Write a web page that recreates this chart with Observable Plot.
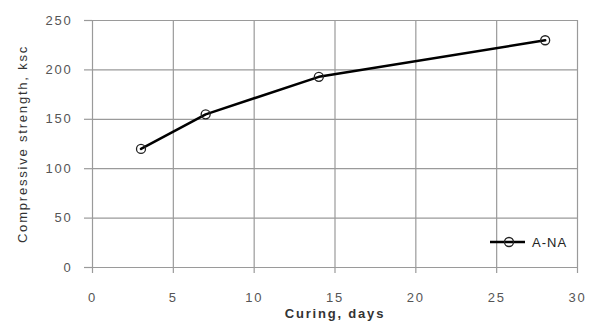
<!DOCTYPE html>
<html>
<head>
<meta charset="utf-8">
<script src="https://cdn.jsdelivr.net/npm/d3@7"></script>
<script src="https://cdn.jsdelivr.net/npm/@observablehq/plot@0.6"></script>
<style>
  html, body { margin: 0; padding: 0; background: #fff; }
</style>
</head>
<body>
<div id="chart"></div>
<script>
const days = [3, 7, 14, 28];
const strength = [120, 155, 193, 230];
const seriesName = "A-NA";
const xTicks = [0, 5, 10, 15, 20, 25, 30];
const yTicks = [0, 50, 100, 150, 200, 250];
const xTitle = "Curing, days";
const yTitle = "Compressive strength, ksc";

const data = days.map((d, i) => ({days: d, strength: strength[i]}));
const gridColor = "#9a9a9a";

const plot = Plot.plot({
  width: 594,
  height: 326,
  marginLeft: 92,
  marginRight: 17,
  marginTop: 20,
  marginBottom: 59,
  style: {fontFamily: "'Liberation Sans', Arial, sans-serif", fontSize: "13px", letterSpacing: "1.8px", background: "#fff"},
  x: {domain: [0, 30]},
  y: {domain: [0, 250]},
  marks: [
    Plot.gridX(xTicks, {stroke: gridColor, strokeOpacity: 1, strokeWidth: 1.2}),
    Plot.gridY(yTicks, {stroke: gridColor, strokeOpacity: 1, strokeWidth: 1.2}),
    Plot.axisX({ticks: xTicks, tickSize: 6, tickPadding: 19, stroke: gridColor, fill: "#555", label: null, strokeWidth: 1.2}),
    Plot.axisY({ticks: yTicks, tickSize: 8, tickPadding: 12, stroke: gridColor, fill: "#555", label: null, strokeWidth: 1.2}),
    Plot.text([xTitle], {frameAnchor: "bottom", dy: 50, fill: "#333", fontWeight: "bold", textAnchor: "middle"}),
    Plot.text([yTitle], {frameAnchor: "left", dx: -70, rotate: -90, fill: "#333", textAnchor: "middle"}),
    Plot.line(data, {x: "days", y: "strength", stroke: "#000", strokeWidth: 2.5}),
    Plot.dot(data, {x: "days", y: "strength", r: 4.5, stroke: "#222", strokeWidth: 1.3, fill: "none"})
  ]
});

// legend (bottom-right inside plot frame)
const svg = d3.select(plot);
const xs = plot.scale("x"), ys = plot.scale("y");
const right = xs.range[1], bottom = ys.range[0];
const ly = bottom - 25;
const lg = svg.append("g");
lg.append("line").attr("x1", right - 87).attr("x2", right - 52).attr("y1", ly).attr("y2", ly)
  .attr("stroke", "#000").attr("stroke-width", 2.5);
lg.append("circle").attr("cx", right - 68).attr("cy", ly).attr("r", 4.5)
  .attr("fill", "none").attr("stroke", "#222").attr("stroke-width", 1.3);
lg.append("text").attr("x", right - 45).attr("y", ly).attr("dy", "0.35em")
  .attr("text-anchor", "start").attr("letter-spacing", "1px")
  .attr("fill", "#222").text(seriesName);

document.getElementById("chart").appendChild(plot);
</script>
</body>
</html>
